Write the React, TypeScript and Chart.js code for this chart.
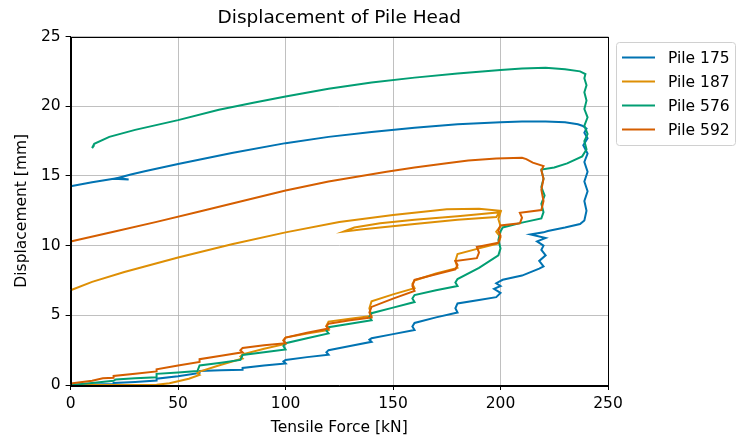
import { useEffect, useRef } from "react";
import { Chart, registerables } from "chart.js";

Chart.register(...registerables);

const seriesNames = ["Pile 175", "Pile 187", "Pile 576", "Pile 592"];
const seriesColors = ["#0173b2", "#de8f05", "#029e73", "#d55e00"];
const xTicks = [0, 50, 100, 150, 200, 250];
const yTicks = [0, 5, 10, 15, 20, 25];
const chartTitle = "Displacement of Pile Head";
const xTitle = "Tensile Force [kN]";
const yTitle = "Displacement [mm]";

// [tensile force kN, displacement mm]
const pile175: [number, number][] = [
  [0, 0], [10, 0.03], [20, 0.08], [20, 0.15], [30, 0.22], [40, 0.32], [40, 0.45], [50, 0.62],
  [60, 0.86], [60, 1.0], [70, 1.05], [80, 1.1], [80, 1.22], [90, 1.4], [100, 1.55], [99, 1.7],
  [100, 1.8], [110, 2.0], [120, 2.17], [119, 2.35], [120, 2.5], [130, 2.8], [140, 3.1], [139, 3.25],
  [140, 3.35], [150, 3.65], [160, 3.95], [159, 4.2], [160, 4.45], [170, 4.85], [180, 5.2], [179, 5.5],
  [180, 5.85], [190, 6.1], [198, 6.3], [200, 6.6], [197, 6.9], [200, 7.1], [198, 7.3], [201, 7.55],
  [210, 7.85], [218, 8.35], [220, 8.5], [218, 8.9], [221, 9.3], [219, 9.7], [220, 10.0], [217, 10.3],
  [221, 10.55], [214, 10.8], [220, 10.95], [222, 11.05], [230, 11.3], [237, 11.55], [239, 11.8],
  [240, 12.5], [239, 13.2], [240.5, 13.9], [239, 14.6], [240.5, 15.3], [239, 16.0], [240.5, 16.6],
  [238.5, 17.2], [240.5, 17.7], [239, 18.1], [240, 18.4], [238, 18.6], [236, 18.7], [230, 18.85],
  [221, 18.9], [210, 18.9], [200, 18.85], [180, 18.7], [160, 18.45], [140, 18.15], [120, 17.8],
  [100, 17.35], [75, 16.65], [50, 15.85], [35, 15.35], [28, 15.1], [22, 14.85], [27, 14.75],
  [20, 14.8], [10, 14.55], [0, 14.25],
];

const pile187: [number, number][] = [
  [0, 0], [20, 0], [40, 0.02], [46, 0.12], [55, 0.45], [60, 0.72], [59, 0.85], [60, 0.96],
  [70, 1.45], [80, 1.9], [79, 2.05], [80, 2.2], [90, 2.6], [100, 2.95], [99, 3.2], [100, 3.4],
  [110, 3.7], [120, 3.95], [119, 4.25], [120, 4.55], [130, 4.75], [140, 4.95], [139, 5.5],
  [140, 6.0], [150, 6.5], [160, 6.95], [159, 7.25], [160, 7.5], [170, 8.0], [180, 8.4], [179, 8.9],
  [180, 9.4], [190, 9.8], [199, 10.15], [200, 10.6], [198, 11.0], [200, 11.4], [199, 11.9],
  [200, 12.4], [190, 12.25], [180, 12.1], [160, 11.85], [144, 11.6], [132, 11.3], [127, 11.0],
  [135, 11.15], [144, 11.3], [160, 11.55], [180, 11.85], [198, 12.05], [200, 12.5], [190, 12.65],
  [175, 12.6], [150, 12.2], [125, 11.7], [100, 10.95], [75, 10.1], [50, 9.15], [25, 8.1],
  [10, 7.4], [0, 6.8],
];

const pile576: [number, number][] = [
  [0, 0], [10, 0.15], [20, 0.3], [21, 0.4], [30, 0.48], [40, 0.55], [40, 0.8], [50, 0.9],
  [59, 1.0], [60, 1.4], [70, 1.6], [79, 1.8], [80, 2.15], [90, 2.35], [100, 2.55], [99, 2.8],
  [100, 3.0], [110, 3.35], [120, 3.7], [119, 3.9], [120, 4.15], [130, 4.4], [140, 4.65], [139, 4.9],
  [140, 5.15], [150, 5.55], [160, 5.95], [159, 6.2], [160, 6.45], [170, 6.8], [180, 7.1], [179, 7.35],
  [180, 7.6], [190, 8.4], [199, 9.3], [200, 9.8], [199, 10.4], [200, 11.0], [201, 11.3], [210, 11.65],
  [219, 11.95], [220, 12.4], [219, 13.0], [220.5, 13.6], [219, 14.2], [220, 14.8], [219, 15.45],
  [225, 15.6], [231, 15.9], [238, 16.4], [240, 16.9], [239, 17.5], [240.5, 18.0], [239, 18.6],
  [240.5, 19.2], [239, 19.8], [240, 20.4], [239, 21.0], [240, 21.5], [239, 22.0], [239.5, 22.3],
  [237, 22.5], [230, 22.65], [221, 22.75], [210, 22.7], [200, 22.6], [180, 22.35], [160, 22.05],
  [140, 21.7], [120, 21.25], [100, 20.7], [85, 20.25], [69, 19.75], [50, 19.0], [30, 18.3],
  [18, 17.8], [11, 17.3], [10, 17.0], [11, 17.2],
];

const pile592: [number, number][] = [
  [0, 0.1], [10, 0.3], [15, 0.48], [20, 0.52], [20, 0.65], [30, 0.8], [40, 0.97], [40, 1.12],
  [50, 1.4], [60, 1.65], [60, 1.85], [70, 2.1], [80, 2.35], [79, 2.5], [80, 2.65], [90, 2.85],
  [100, 3.0], [99, 3.2], [100, 3.4], [110, 3.75], [120, 4.05], [119, 4.2], [120, 4.4], [130, 4.65],
  [140, 4.85], [139, 5.2], [140, 5.6], [150, 6.2], [160, 6.75], [159, 7.1], [160, 7.55], [170, 7.95],
  [179, 8.3], [180, 8.6], [179, 8.9], [189, 9.1], [190, 9.5], [189, 9.9], [199, 10.2], [200, 10.7],
  [199, 11.1], [200, 11.45], [209, 11.6], [210, 12.0], [209, 12.35], [219, 12.55], [220, 13.2],
  [219, 14.0], [220, 14.8], [219, 15.4], [220, 15.7], [215, 15.95], [212, 16.2], [210, 16.3],
  [198, 16.25], [185, 16.1], [175, 15.9], [160, 15.6], [147, 15.3], [120, 14.6], [100, 13.95],
  [80, 13.2], [60, 12.45], [40, 11.7], [20, 11.0], [0, 10.3],
];

const seriesData = [pile175, pile187, pile576, pile592];

const FONT = "'DejaVu Sans', 'Liberation Sans', sans-serif";
const TICK_PX = 15.5;

export default function App() {
  const ref = useRef<HTMLCanvasElement>(null);

  useEffect(() => {
    if (!ref.current) return;

    const decor = {
      id: "decor",
      afterDraw(chart: any) {
        const { ctx, chartArea: a } = chart;
        ctx.save();
        ctx.strokeStyle = "#000";
        ctx.lineWidth = 1;
        ctx.strokeRect(
          Math.round(a.left) + 0.5,
          Math.round(a.top) + 0.5,
          Math.round(a.right - a.left),
          Math.round(a.bottom - a.top)
        );
        ctx.fillStyle = "#000";
        ctx.textAlign = "center";
        ctx.textBaseline = "middle";
        ctx.font = `18.5px ${FONT}`;
        ctx.fillText(chartTitle, (a.left + a.right) / 2, 18);
        ctx.font = `${TICK_PX}px ${FONT}`;
        ctx.fillText(xTitle, (a.left + a.right) / 2, 428);
        ctx.save();
        ctx.translate(22, (a.top + a.bottom) / 2);
        ctx.rotate(-Math.PI / 2);
        ctx.fillText(yTitle, 0, 0);
        ctx.restore();
        const lx = 616.5, ly = 42.5, lw = 119, lh = 103;
        ctx.beginPath();
        (ctx as any).roundRect(lx, ly, lw, lh, 3);
        ctx.fillStyle = "rgba(255,255,255,0.8)";
        ctx.fill();
        ctx.strokeStyle = "#d0d0d0";
        ctx.lineWidth = 1;
        ctx.stroke();
        ctx.textAlign = "left";
        ctx.font = `${TICK_PX}px ${FONT}`;
        seriesNames.forEach((name, i) => {
          const y = 57.5 + i * 24;
          ctx.beginPath();
          ctx.strokeStyle = seriesColors[i];
          ctx.lineWidth = 2;
          ctx.moveTo(622, y);
          ctx.lineTo(655, y);
          ctx.stroke();
          ctx.fillStyle = "#000";
          ctx.fillText(name, 668, y + 1);
        });
        ctx.restore();
      },
    };

    const axisCommon = {
      type: "linear" as const,
      ticks: {
        font: { family: FONT, size: TICK_PX },
        color: "#000",
        padding: 5,
        maxRotation: 0,
        autoSkip: false,
      },
      grid: {
        color: "#b0b0b0",
        lineWidth: 0.8,
        drawTicks: true,
        tickLength: 5,
        tickColor: "#000",
        tickWidth: 1,
      },
      border: { display: true, color: "#000", width: 1 },
    };

    const chart = new Chart(ref.current, {
      type: "scatter",
      data: {
        datasets: seriesData.map((pts, i) => ({
          label: seriesNames[i],
          data: pts.map(([x, y]) => ({ x, y })),
          showLine: true,
          borderColor: seriesColors[i],
          backgroundColor: seriesColors[i],
          borderWidth: 2,
          pointRadius: 0,
          pointHoverRadius: 0,
          tension: 0,
          fill: false,
          order: seriesData.length - i,
        })),
      },
      options: {
        responsive: false,
        animation: false,
        devicePixelRatio: 1,
        events: [],
        layout: { padding: { left: 0, top: 36.5, right: 130, bottom: 0 } },
        plugins: {
          legend: { display: false },
          title: { display: false },
          tooltip: { enabled: false },
        },
        scales: {
          x: {
            ...axisCommon,
            min: 0,
            max: 250,
            afterBuildTicks: (s: any) => {
              s.ticks = xTicks.map((v) => ({ value: v }));
            },
            afterFit: (s: any) => {
              s.height = 55;
            },
          },
          y: {
            ...axisCommon,
            min: 0,
            max: 25,
            afterBuildTicks: (s: any) => {
              s.ticks = yTicks.map((v) => ({ value: v }));
            },
            afterFit: (s: any) => {
              s.width = 70.6;
            },
          },
        },
      } as any,
      plugins: [decor],
    });

    return () => chart.destroy();
  }, []);

  return (
    <div style={{ position: "fixed", left: 0, top: 0, width: 738, height: 440, background: "#fff" }}>
      <canvas ref={ref} width={738} height={440} style={{ width: 738, height: 440, display: "block" }} />
    </div>
  );
}
